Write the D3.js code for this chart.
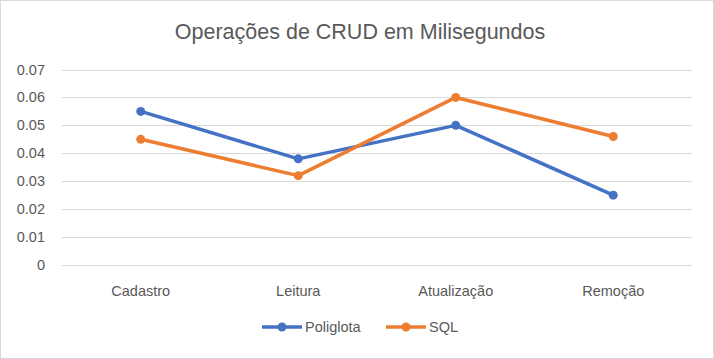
<!DOCTYPE html>
<html>
<head>
<meta charset="utf-8">
<script src="https://cdn.jsdelivr.net/npm/d3@7"></script>
<style>
  body { margin: 0; background: #fff; }
  svg { display: block; font-family: "Liberation Sans", Arial, sans-serif; }
</style>
</head>
<body>
<svg id="chart"></svg>
<script>
// data
const categories = ["Cadastro", "Leitura", "Atualização", "Remoção"];
const poliglota = [0.055, 0.038, 0.050, 0.025];
const sql = [0.045, 0.032, 0.060, 0.046];
const yTicks = [0, 0.01, 0.02, 0.03, 0.04, 0.05, 0.06, 0.07];
const tickLabels = ["0", "0.01", "0.02", "0.03", "0.04", "0.05", "0.06", "0.07"];

const series = [
  { name: "Poliglota", values: poliglota, color: "#4472C4" },
  { name: "SQL", values: sql, color: "#ED7D31" }
];

const w = 714, h = 359;
const m = { left: 62, right: 22, top: 69.5, bottom: 94 };

const svg = d3.select("#chart").attr("width", w).attr("height", h);

// outer border
svg.append("rect")
  .attr("x", 0.5).attr("y", 0.5)
  .attr("width", w - 1).attr("height", h - 1)
  .attr("fill", "#fff").attr("stroke", "#d9d9d9");

// title
svg.append("text")
  .attr("x", 360).attr("y", 39)
  .attr("text-anchor", "middle")
  .attr("font-size", "21.5px")
  .attr("fill", "#595959")
  .text("Operações de CRUD em Milisegundos");

let x = d3.scaleBand()
  .domain(categories)
  .range([m.left, w - m.right]);

let y = d3.scaleLinear()
  .domain([0, 0.07])
  .range([h - m.bottom, m.top]);

// gridlines
svg.append("g")
  .selectAll("line")
  .data(yTicks)
  .enter()
  .append("line")
    .attr("x1", m.left).attr("x2", w - m.right)
    .attr("y1", d => Math.round(y(d)) + 0.5)
    .attr("y2", d => Math.round(y(d)) + 0.5)
    .attr("stroke", "#d9d9d9")
    .attr("stroke-width", 1);

// y labels
svg.append("g")
  .selectAll("text")
  .data(yTicks)
  .enter()
  .append("text")
    .attr("x", 45)
    .attr("y", d => y(d) + 5)
    .attr("text-anchor", "end")
    .attr("font-size", "14.5px")
    .attr("fill", "#595959")
    .text((d, i) => tickLabels[i]);

// x labels
svg.append("g")
  .selectAll("text")
  .data(categories)
  .enter()
  .append("text")
    .attr("x", d => x(d) + x.bandwidth() / 2)
    .attr("y", 296)
    .attr("text-anchor", "middle")
    .attr("font-size", "14.5px")
    .attr("fill", "#595959")
    .text(d => d);

let line = d3.line()
  .x((d, i) => x(categories[i]) + x.bandwidth() / 2)
  .y(d => y(d));

series.forEach(s => {
  svg.append("path")
    .datum(s.values)
    .attr("d", line)
    .attr("fill", "none")
    .attr("stroke", s.color)
    .attr("stroke-width", 3.5)
    .attr("stroke-linejoin", "round")
    .attr("stroke-linecap", "round");

  svg.append("g")
    .selectAll("circle")
    .data(s.values)
    .enter()
    .append("circle")
      .attr("cx", (d, i) => x(categories[i]) + x.bandwidth() / 2)
      .attr("cy", d => y(d))
      .attr("r", 4.5)
      .attr("fill", s.color);
});

// legend
const legendX = [262, 386];
const legend = svg.append("g");
series.forEach((s, i) => {
  let g = legend.append("g").attr("transform", `translate(${legendX[i]},327)`);
  g.append("line")
    .attr("x1", 0).attr("x2", 40)
    .attr("stroke", s.color).attr("stroke-width", 3.5);
  g.append("circle").attr("cx", 20).attr("r", 4.5).attr("fill", s.color);
  g.append("text")
    .attr("x", 43).attr("y", 5)
    .attr("font-size", "14.5px")
    .attr("fill", "#595959")
    .text(s.name);
});
</script>
</body>
</html>
